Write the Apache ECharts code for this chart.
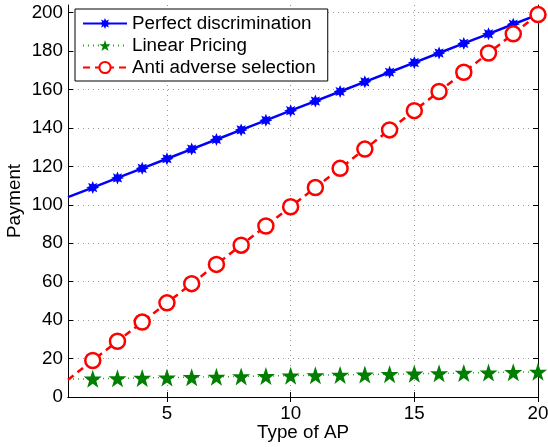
<!DOCTYPE html>
<html>
<head>
<meta charset="utf-8">
<style>
  html, body { margin: 0; padding: 0; background: #fff; }
  #chart { width: 548px; height: 447px; }
</style>
<script src="https://cdn.jsdelivr.net/npm/echarts@6/dist/echarts.min.js"></script>
</head>
<body>
<div id="chart"></div>
<script>
  // data
  const apTypes = [1, 2, 3, 4, 5, 6, 7, 8, 9, 10, 11, 12, 13, 14, 15, 16, 17, 18, 19, 20]
  const perfectDisc = [104, 109, 114, 119, 124, 129, 134, 139, 144, 149, 154, 159, 164, 169, 174, 179, 184, 189, 194, 199]
  const linearPricing = [9.3, 9.5, 9.7, 9.9, 10.1, 10.3, 10.5, 10.7, 10.9, 11.1, 11.3, 11.5, 11.7, 11.9, 12.1, 12.3, 12.5, 12.7, 12.9, 13.1]
  const antiAdverse = [9, 19, 29, 39, 49, 59, 69, 79, 89, 99, 109, 119, 129, 139, 149, 159, 169, 179, 189, 199]
  const xTicks = [5, 10, 15, 20]
  const yTicks = [0, 20, 40, 60, 80, 100, 120, 140, 160, 180, 200]

  // 8 point star for the matlab '*' marker
  function starPath () {
    let p = 'path://'
    for (let i = 0; i < 16; i++) {
      const r = i % 2 === 0 ? 10 : 5.5
      const a = Math.PI * i / 8
      p += (i === 0 ? 'M' : 'L') + (10 + r * Math.sin(a)).toFixed(2) + ',' + (10 - r * Math.cos(a)).toFixed(2)
    }
    return p + 'Z'
  }

  function pairs (ys) {
    return apTypes.map((x, i) => {
      const item = { value: [x, ys[i]] }
      if (i === 0) item.symbol = 'none'
      return item
    })
  }

  const font = 'Liberation Sans, Arial, Helvetica, sans-serif'
  const fs = 18.8
  const chart = echarts.init(document.getElementById('chart'))
  chart.setOption({
    animation: false,
    textStyle: { fontFamily: font },
    grid: { left: 68, right: 10, top: 5, bottom: 50, outerBoundsMode: 'none' },
    legend: {
      orient: 'vertical',
      left: 75,
      top: 9,
      itemWidth: 44,
      itemHeight: 14,
      itemGap: 3,
      padding: [5, 12, 4, 7],
      borderColor: '#000',
      borderWidth: 1,
      backgroundColor: '#fff',
      textStyle: { fontSize: fs, color: '#000', fontFamily: font }
    },
    xAxis: [{
      type: 'value',
      min: 1,
      max: 20,
      name: 'Type of AP',
      nameLocation: 'middle',
      nameGap: 26,
      nameMoveOverlap: false,
      nameTextStyle: { fontSize: fs, color: '#000' },
      axisLine: { onZero: false, lineStyle: { color: '#000', width: 1 } },
      axisTick: { inside: true, length: 5, customValues: xTicks, lineStyle: { color: '#000' } },
      axisLabel: { customValues: xTicks, fontSize: fs, color: '#000', margin: 7 },
      splitLine: { show: true, lineStyle: { color: '#999', type: [1, 4] } }
    }, {
      type: 'value',
      position: 'top',
      min: 1,
      max: 20,
      axisLine: { lineStyle: { color: '#000', width: 1 } },
      axisTick: { inside: true, length: 5, customValues: xTicks, lineStyle: { color: '#000' } },
      axisLabel: { show: false },
      splitLine: { show: false }
    }],
    yAxis: [{
      type: 'value',
      min: 0,
      max: 204,
      name: 'Payment',
      nameLocation: 'middle',
      nameGap: 44,
      nameMoveOverlap: false,
      nameTextStyle: { fontSize: fs, color: '#000' },
      axisLine: { onZero: false, lineStyle: { color: '#000', width: 1 } },
      axisTick: { inside: true, length: 5, customValues: yTicks, lineStyle: { color: '#000' } },
      axisLabel: { customValues: yTicks, fontSize: fs, color: '#000', margin: 5 },
      splitLine: { show: true, lineStyle: { color: '#999', type: [1, 4] } }
    }, {
      type: 'value',
      position: 'right',
      min: 0,
      max: 204,
      axisLine: { show: true, lineStyle: { color: '#000', width: 1 } },
      axisTick: { show: true, inside: true, length: 5, customValues: yTicks, lineStyle: { color: '#000' } },
      axisLabel: { show: false },
      splitLine: { show: false }
    }],
    series: [
      {
        name: 'Perfect discrimination',
        type: 'line',
        data: pairs(perfectDisc),
        symbol: starPath(),
        symbolSize: 13,
        showAllSymbol: true,
        itemStyle: { color: '#0000ff' },
        lineStyle: { color: '#0000ff', width: 2.5 },
        z: 3
      },
      {
        name: 'Linear Pricing',
        type: 'line',
        data: pairs(linearPricing),
        symbol: 'path://M10,0 L12.35,6.9 L19.5,6.9 L13.8,11.2 L15.9,18.1 L10,14 L4.1,18.1 L6.2,11.2 L0.5,6.9 L7.65,6.9 Z',
        symbolSize: 18,
        showAllSymbol: true,
        itemStyle: { color: '#007f00' },
        lineStyle: { color: '#33a033', width: 1.5, type: [1, 4] },
        z: 2
      },
      {
        name: 'Anti adverse selection',
        type: 'line',
        data: pairs(antiAdverse),
        symbol: 'circle',
        symbolSize: 15,
        showAllSymbol: true,
        itemStyle: { color: '#fff', borderColor: '#ff0000', borderWidth: 2.5 },
        lineStyle: { color: '#ff0000', width: 2.5, type: [7, 5] },
        z: 4
      }
    ]
  })
</script>
</body>
</html>
